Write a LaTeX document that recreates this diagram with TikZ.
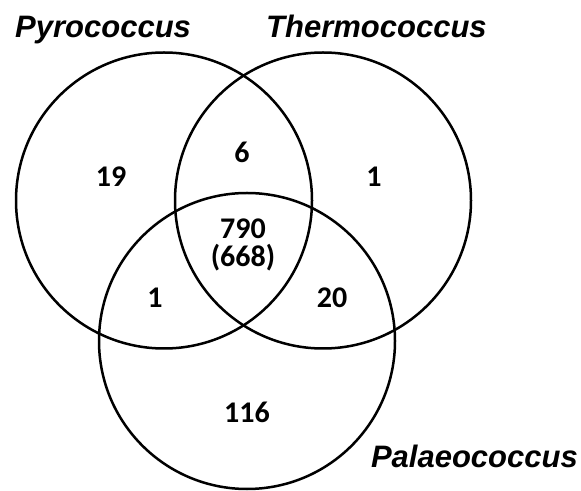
\documentclass[tikz,border=0pt]{standalone}
\usepackage{fontspec}
\setmainfont{Carlito}
\newfontfamily\genusfont{Liberation Sans}
\usepackage{tikz}

\begin{document}
\begin{tikzpicture}[x=1pt,y=1pt,
		set/.style={circle,draw,line width=2.5pt,minimum size=296pt,inner sep=0pt},
		count/.style={font=\fontsize{30}{34}\selectfont\bfseries,inner sep=0pt,align=center},
		genus/.style={font=\genusfont\fontsize{31}{34}\selectfont\bfseries\itshape,inner sep=0pt}]
			\useasboundingbox (0,0) rectangle (581,490);
			% the three sets
			\node[set] (pyro) at (164,289.5) {};
			\node[set] (thermo) at (323,289.5) {};
			\node[set] (palaeo) at (247,149) {};
			% genus names
			\node[genus,anchor=base west] (pyroname) at (15,452) {Pyrococcus};
			\node[genus,anchor=base west] (thermoname) at (266,452) {Thermococcus};
			\node[genus,anchor=base east] (palaeoname) at (578,23) {Palaeococcus};
			% counts
			\node[count] (onlypyro) at (111,313) {19};
			\node[count] (pyrothermo) at (242,338) {6};
			\node[count] (onlythermo) at (374,313) {1};
			\node[count] (core) at (243,261) {790};
			\node[count] (coresub) at (243,232) {(668)};
			\node[count] (pyropalaeo) at (155,192.5) {1};
			\node[count] (thermopalaeo) at (332,192.5) {20};
			\node[count] (onlypalaeo) at (247,77.5) {116};
		\end{tikzpicture}
\end{document}
